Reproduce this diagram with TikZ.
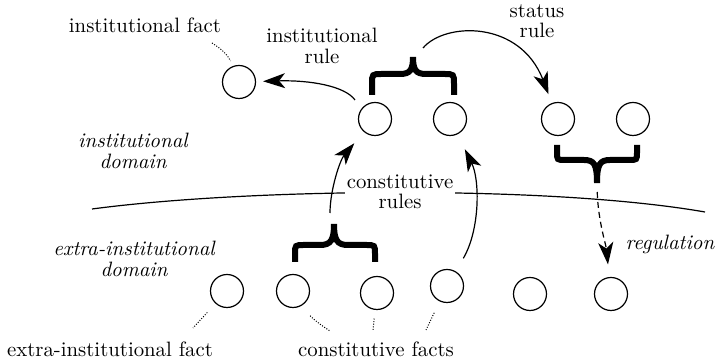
\documentclass[tikz,border=0pt]{standalone}
\usetikzlibrary{arrows.meta}
\begin{document}
\begin{tikzpicture}[x=0.5pt,y=-0.5pt,
  every node/.style={font=\fontsize{10.4}{10.2}\selectfont},
  fact/.style={circle, draw, line width=0.6pt, minimum size=16.5pt, inner sep=0pt},
  lbl/.style={align=center, inner sep=1pt},
  dom/.style={align=center, inner sep=1pt, font=\fontsize{10.4}{10.2}\selectfont\itshape},
  arr/.style={line width=0.6pt, -{Stealth[length=11pt,width=7.5pt,inset=3pt]}},
  dotline/.style={line width=0.5pt, dash pattern=on 0.5pt off 0.8pt},
  bracestyle/.style={line width=3pt},
  divider/.style={line width=0.6pt},
]
\useasboundingbox (0,0) rectangle (718,362);

% circles
\node[fact] (f)  at (239,82) {};
\node[fact] (u1) at (375,119) {};
\node[fact] (u2) at (450,119) {};
\node[fact] (u3) at (558,119) {};
\node[fact] (u4) at (633,119) {};
\node[fact] (l1) at (227,291) {};
\node[fact] (l2) at (293,291) {};
\node[fact] (l3) at (377,293) {};
\node[fact] (l4) at (447,286) {};
\node[fact] (l5) at (530,294) {};
\node[fact] (l6) at (611,294) {};

% braces
\draw[bracestyle] (372,95) -- (372,84) .. controls (372,74) .. (382,74) -- (400,74)
  .. controls (410,74) and (413,70) .. (413,57)
  .. controls (413,70) and (416,74) .. (426,74) -- (444,74)
  .. controls (454,74) .. (454,84) -- (454,95);
\draw[bracestyle] (557,145) -- (557,152) .. controls (557,160) .. (565,160) -- (584,160)
  .. controls (594,160) and (597,164) .. (597,183)
  .. controls (597,164) and (600,160) .. (610,160) -- (629,160)
  .. controls (637,160) .. (637,152) -- (637,145);
\draw[bracestyle] (295,262) -- (295,254) .. controls (295,245) .. (304,245) -- (320,245)
  .. controls (331,245) and (334,240) .. (334,224)
  .. controls (334,240) and (337,245) .. (348,245) -- (366,245)
  .. controls (375,245) .. (375,254) -- (375,262);

\coordinate (rb) at (597,183);
\coordinate (ir) at (355,100);
\coordinate (sr) at (423,48);
\coordinate (cr) at (330,213);

% divider
\coordinate (dl) at (92,209);
\coordinate (dr) at (705,212);
\draw[divider] (dl) .. controls (250,188) and (550,185) .. (dr);

% labels
\node[lbl] (ifl) at (145,25) {institutional fact};
\node[lbl] (irl) at (322,46) {institutional\\rule};
\node[lbl] (srl) at (537,21) {status\\rule};
\node[dom] (idl) at (133,151) {institutional\\domain};
\node[dom] (edl) at (134,259) {extra-institutional\\domain};
\node[dom] (rgl) at (670,244) {regulation};
\node[lbl, fill=white] (crl) at (400,192) {constitutive\\rules};
\node[lbl] (efl) at (110,349) {extra-institutional fact};
\node[lbl] (cfl) at (376,349) {constitutive facts};

% arrows
\draw[arr, shorten >=3.5pt] (ir) .. controls (345,86) and (310,80) .. (f);
\draw[arr, shorten >=4.7pt] (sr) .. controls (445,22) and (520,20) .. (u3);
\draw[arr, shorten >=7.4pt] (cr) .. controls (330,190) and (340,160) .. (u1);
\draw[arr, shorten <=7.5pt, shorten >=8.3pt] (l4) .. controls (480,230) and (480,180) .. (u2);
\draw[arr, dash pattern=on 3pt off 2pt, shorten <=4.5pt, shorten >=6.3pt] (rb) .. controls (598,220) and (606,245) .. (l6);

% dotted pointers
\coordinate (d1) at (212,43);
\coordinate (d2) at (193,328);
\coordinate (d3) at (330,331);
\coordinate (d4) at (373,330);
\coordinate (d5) at (426,330);
\draw[dotline, shorten >=2.8pt] (d1) to[bend left=15] (f);
\draw[dotline, shorten <=6pt] (l1) -- (d2);
\draw[dotline, shorten <=6.5pt] (l2) to[bend right=10] (d3);
\draw[dotline, shorten <=4.3pt] (l3) -- (d4);
\draw[dotline, shorten <=6.3pt] (l4) -- (d5);
\end{tikzpicture}
\end{document}
